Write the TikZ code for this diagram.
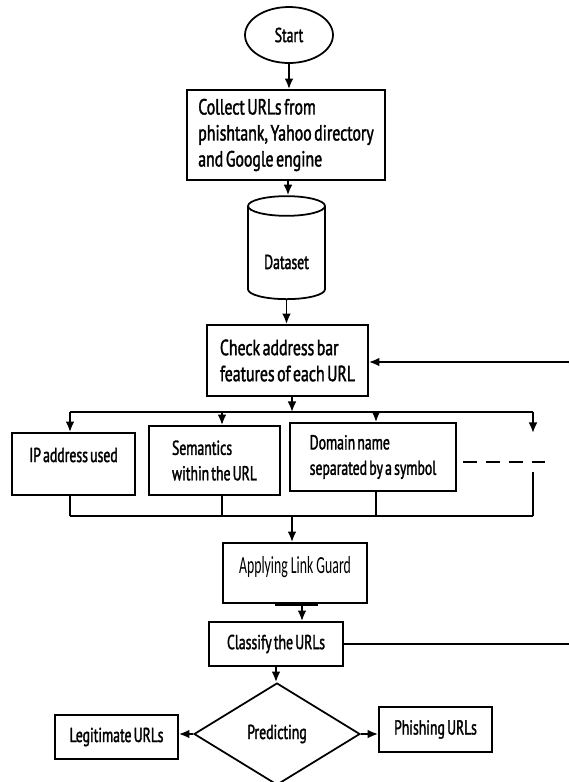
\documentclass[tikz,border=0pt]{standalone}
\usepackage{fontspec}
\setmainfont{PT Sans}[FakeStretch=0.68, FakeBold=1.6, WordSpace=0.6]
\newfontfamily\largefont{PT Sans}[FakeStretch=0.72, FakeBold=1.6, WordSpace=0.6]
\newfontfamily\guardfont{Carlito}[FakeStretch=0.56]
\usetikzlibrary{shapes.geometric,arrows.meta}

\tikzset{
    box/.style={draw, line width=1pt, inner sep=0pt, align=left, font=\fontsize{11.5}{14.5}\selectfont},
    bigbox/.style={box, font=\largefont\fontsize{12.5}{14.8}\selectfont},
    flow/.style={line width=1.1pt, -{Latex[length=6pt,width=5pt]}},
    link/.style={line width=0.8pt}
}

\begin{document}
\begin{tikzpicture}[x=0.02cm, y=-0.02cm]
    \useasboundingbox (0,0) rectangle (569,782);

            %%the main column
            \node[box, ellipse, minimum width=1.76cm, minimum height=1.12cm] (start) at (289, 35){Start};
            \node[bigbox, minimum width=3.96cm, minimum height=1.8cm] (collect) at (286, 135)
                {Collect URLs from\\phishtank, Yahoo directory\\and Google engine};
            \node[box, cylinder, shape border rotate=90, aspect=0.44, minimum width=1.54cm, minimum height=2.06cm] (data) at (286.5, 253)
                {\raisebox{-0.18cm}[\height][\depth]{Dataset}};
            \node[bigbox, minimum width=3.22cm, minimum height=1.42cm] (check) at (287.5, 360.5)
                {Check address bar\\features of each URL};

            %%the features
            \node[box, minimum width=2.46cm, minimum height=1.24cm] (ip) at (73.5, 464)
                {\raisebox{0.18cm}[\height][\depth]{IP address used}};
            \node[box, minimum width=2.62cm, minimum height=1.38cm] (sem) at (214.5, 460.5)
                {Semantics\\within the URL};
            \node[box, minimum width=3.32cm, minimum height=1.36cm] (dom) at (373, 457)
                {Domain name\\separated by a symbol};

            %%guard and result
            \node[box, font=\guardfont\fontsize{14}{16}\selectfont, minimum width=2.88cm, minimum height=1.2cm] (guard) at (295, 573)
                {\raisebox{0.12cm}[\height][\depth]{Applying Link Guard}};
            \node[box, minimum width=2.68cm, minimum height=0.88cm] (classify) at (276, 644){Classify the URLs};
            \node[box, diamond, minimum width=3.32cm, minimum height=2.04cm] (predict) at (277, 734){Predicting};
            \node[box, minimum width=2.46cm, minimum height=0.88cm] (legit) at (116.5, 737){Legitimate URLs};
            \node[box, minimum width=2.26cm, minimum height=0.9cm] (phish) at (435.5, 729.5){Phishing URLs};

            %%points of the branches
            \coordinate (splitA) at (70, 412);
            \coordinate (splitB) at (222, 412);
            \coordinate (splitC) at (376, 412);
            \coordinate (splitD) at (533, 412);
            \coordinate (split) at (292, 412);
            \coordinate (more) at (533, 433);
            \coordinate (joinA) at (70, 516);
            \coordinate (joinD) at (533, 516);
            \coordinate (join) at (292, 516);
            \coordinate (loopT) at (569, 362);
            \coordinate (loopB) at (569, 644);

            %%draw the arrows
            \draw[flow] (start) -- (start |- collect.north);
            \draw[flow] (collect.south -| 288, 0) -- (data.north -| 288, 0);
            \draw[flow] (data.south) -- (data.south |- check.north);
            \draw[flow] (check.south -| split) -- (split);
            \draw[link] (splitA) -- (splitD);
                \draw[flow] (splitA) -- (splitA |- ip.north);
                \draw[flow] (splitB) -- (splitB |- sem.north);
                \draw[flow] (splitC) -- (splitC |- dom.north);
                \draw[flow] (splitD) -- (more);
            \draw[link, dash pattern=on 8pt off 5pt] (463, 462) -- (545, 462);
            \draw[link] (533, 472) -- (joinD);
            \draw[link] (joinA) -- (joinD);
                \draw[link] (joinA) -- (joinA |- ip.south);
                \draw[link] (sem.south -| splitB) -- (splitB |- joinA);
                \draw[link] (dom.south -| splitC) -- (splitC |- joinA);
            \draw[flow] (join) -- (join |- guard.north);
            \draw[line width=2.2pt] ([xshift=-0.4cm]guard.south) -- ([xshift=0.46cm]guard.south);
            \draw[flow] ([xshift=0.14cm]guard.south) -- ([xshift=0.14cm]guard.south |- classify.north);
            \draw[flow] (classify) -- (classify |- predict.north);
            \draw[flow] (predict.west) -- (predict.west -| legit.east);
            \draw[flow] (predict.east) -- (predict.east -| phish.west);

            %%the loop back
            \draw[link, line width=1pt] (classify.east) -- (classify.east -| loopB);
            \draw[flow] (loopT) -- (loopT -| check.east);
\end{tikzpicture}
\end{document}
